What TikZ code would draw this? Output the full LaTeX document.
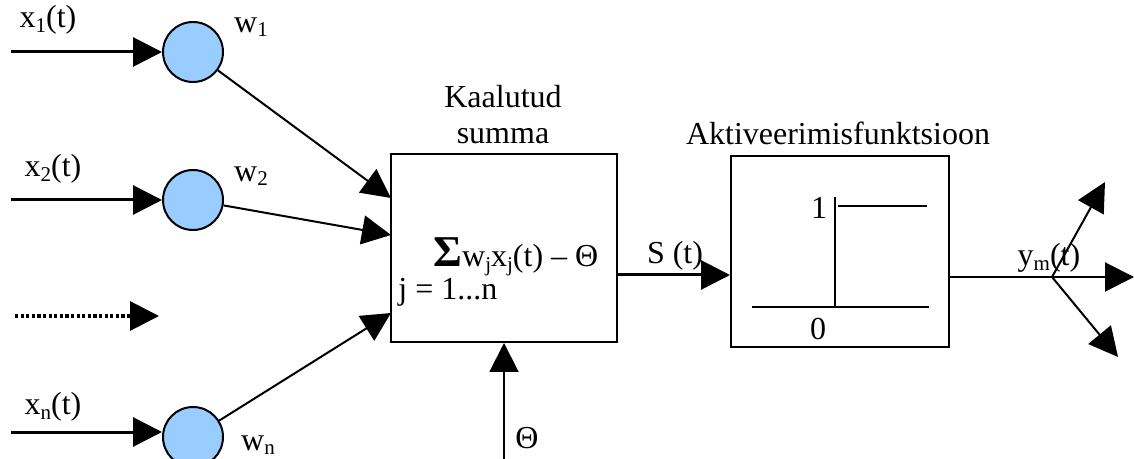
\documentclass[tikz,border=0pt]{standalone}
\usepackage{fontspec}
\setmainfont{Liberation Serif}
\usetikzlibrary{arrows.meta}
\definecolor{neuron}{HTML}{99CCFF}
\newcommand\sbs[1]{\raisebox{-0.3ex}{\fontsize{10.5}{10.5}\selectfont #1}}
\begin{document}
\begin{tikzpicture}[x=0.5pt,y=-0.5pt,
  font=\fontsize{16}{18}\selectfont,
  tip/.style={-{Triangle[length=14.5pt,width=14.5pt]}},
  neuronnode/.style={circle,draw,line width=1pt,fill=neuron,minimum size=30pt,inner sep=0pt},
  blockbox/.style={draw,line width=1pt,inner sep=0pt},
  inarrow/.style={tip,line width=1.5pt},
  wline/.style={tip,line width=1pt},
  lbl/.style={inner sep=0pt}]
\useasboundingbox (0,0) rectangle (1134,459);
% neurons
\node[neuronnode] (c1) at (193,52) {};
\node[neuronnode] (c2) at (193,200) {};
\node[neuronnode] (cn) at (193,437) {};
% input sources
\coordinate (s1) at (11,52);
\coordinate (s2) at (11,200);
\coordinate (sn) at (11,432);
\coordinate (sd) at (15,316);
\coordinate (td) at (159,316);
\draw[inarrow] (s1) -- (c1);
\draw[inarrow] (s2) -- (c2);
\draw[inarrow] (sn) -- (sn -| cn.west);
\draw[tip,line width=1.6pt,dash pattern=on 1.6pt off 1.2pt] (sd) -- (td);
% labels
\node[lbl] (lx1) at (48,20) {x\sbs{1}(t)};
\node[lbl] (lx2) at (53,169) {x\sbs{2}(t)};
\node[lbl] (lxn) at (53,407) {x\sbs{n}(t)};
\node[lbl] (lw1) at (251,27) {w\sbs{1}};
\node[lbl] (lw2) at (251,176) {w\sbs{2}};
\node[lbl] (lwn) at (258,445) {w\sbs{n}};
% sum box
\node[blockbox,minimum width=113pt,minimum height=94pt] (sum) at (504,248) {};
\node[lbl,align=center] (sumtitle) at (503,115) {Kaalutud\\summa};
\coordinate (t1) at (391,198);
\coordinate (t2) at (391,235);
\coordinate (t3) at (391,313);
\draw[wline] (c1) -- (t1);
\draw[wline] (c2) -- (t2);
\draw[wline] (cn) -- (t3);
\node[lbl,anchor=west] (sumtext) at (433,257) {{\fontsize{22}{22}\selectfont\textbf{Σ}}w\sbs{j}x\sbs{j}(t) – Θ};
\node[lbl,anchor=west] (jrange) at (398,292) {j = 1...n};
% theta input
\coordinate (thsrc) at (504,459);
\draw[tip,line width=1pt] (thsrc) -- (sum.south);
\node[lbl] (thlbl) at (527,438) {Θ};
% activation box
\node[blockbox,minimum width=109pt,minimum height=95.5pt] (act) at (840,251.5) {};
\node[lbl] (acttitle) at (838,133) {Aktiveerimisfunktsioon};
\draw[tip,line width=1.5pt] (sum.east |- 0,275) coordinate (sout) -- (sout -| act.west);
\node[lbl] (slbl) at (675,256) {S (t)};
% step function
\coordinate (v0) at (835,307);
\coordinate (v1) at (835,197);
\coordinate (h1a) at (838,206);
\coordinate (h1b) at (927,206);
\coordinate (h0a) at (752,307);
\coordinate (h0b) at (929,307);
\draw[line width=1pt] (v0) -- (v1);
\draw[line width=1pt] (h1a) -- (h1b);
\draw[line width=1pt] (h0a) -- (h0b);
\node[lbl] (one) at (819,208) {1};
\node[lbl] (zero) at (818,329) {0};
% output
\coordinate (split) at (1052,277);
\coordinate (o1) at (1105,182);
\coordinate (o2) at (1134,277);
\coordinate (o3) at (1118,357);
\draw[line width=1pt] (act.east |- split) -- (split);
\draw[tip,line width=1pt] (split) -- (o1);
\draw[tip,line width=1pt] (split) -- (o2);
\draw[tip,line width=1pt] (split) -- (o3);
\node[lbl] (ylbl) at (1049,258) {y\sbs{m}(t)};
\end{tikzpicture}
\end{document}
